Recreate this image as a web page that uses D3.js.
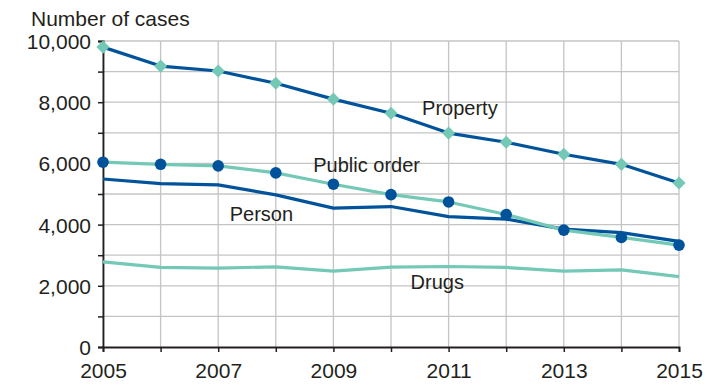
<!DOCTYPE html>
<html>
<head>
<meta charset="utf-8">
<script src="https://cdn.jsdelivr.net/npm/d3@7"></script>
<style>
  body { margin: 0; background: #fff; }
  text { font-family: "Liberation Sans", Arial, sans-serif; fill: #231f20; }
</style>
</head>
<body>
<div id="chart"></div>
<script>
// Data
const years = [2005, 2006, 2007, 2008, 2009, 2010, 2011, 2012, 2013, 2014, 2015];
const property = [9800, 9180, 9020, 8620, 8100, 7640, 6990, 6690, 6300, 5970, 5360];
const publicOrder = [6040, 5970, 5920, 5690, 5320, 4980, 4740, 4330, 3820, 3580, 3330];
const person = [5490, 5340, 5300, 4970, 4540, 4590, 4260, 4180, 3850, 3740, 3450];
const drugs = [2780, 2600, 2580, 2620, 2480, 2610, 2630, 2600, 2480, 2520, 2300];
const yTicks = [0, 2000, 4000, 6000, 8000, 10000];
const xTickLabels = [2005, 2007, 2009, 2011, 2013, 2015];

const dark = "#00539b";
const teal = "#74c8b6";

const W = 720, H = 384;
const margin = { top: 41, right: 41, bottom: 37, left: 103 };
const width = W - margin.left - margin.right;
const height = H - margin.top - margin.bottom;

const svg = d3.select("#chart").append("svg")
    .attr("width", W)
    .attr("height", H)
    .append("g")
    .attr("transform", `translate(${margin.left},${margin.top})`);

const x = d3.scaleLinear().domain([2005, 2015]).range([0, width]);
const y = d3.scaleLinear().domain([0, 10000]).range([height, 0]);

// grid
const grid = svg.append("g").attr("stroke", "#c4c4c4").attr("stroke-width", 1.3);
grid.selectAll(".gx").data(years).join("line")
    .attr("x1", d => x(d)).attr("x2", d => x(d))
    .attr("y1", 0).attr("y2", height);
grid.selectAll(".gy").data(d3.range(1000, 10001, 1000)).join("line")
    .attr("x1", 0).attr("x2", width)
    .attr("y1", d => y(d)).attr("y2", d => y(d));

// axes
const yAxis = d3.axisLeft(y)
    .tickValues(d3.range(0, 10001, 1000))
    .tickSize(5)
    .tickFormat(d => yTicks.includes(d) ? d3.format(",")(d) : "");
const gy = svg.append("g").call(yAxis);
gy.select(".domain").attr("stroke", "#231f20").attr("stroke-width", 1.8);
gy.selectAll(".tick line").attr("stroke", "#231f20").attr("stroke-width", 1.5);
gy.selectAll("text").style("font-size", "21px").attr("x", -12).attr("dy", "0.36em");

const xAxis = d3.axisBottom(x)
    .tickValues(years)
    .tickSize(5)
    .tickFormat(d => xTickLabels.includes(d) ? d : "");
const gx = svg.append("g").attr("transform", `translate(0,${height})`).call(xAxis);
gx.select(".domain").attr("stroke", "#231f20").attr("stroke-width", 1.8);
gx.selectAll(".tick line").attr("stroke", "#231f20").attr("stroke-width", 1.5);
gx.selectAll("text").style("font-size", "21px").attr("y", 31).attr("dy", 0);

// lines
const line = d3.line().x((d, i) => x(years[i])).y(d => y(d));

function drawLine(vals, color) {
    svg.append("path")
        .datum(vals)
        .attr("fill", "none")
        .attr("stroke", color)
        .attr("stroke-width", 3.2)
        .attr("stroke-linejoin", "round")
        .attr("d", line);
}

drawLine(drugs, teal);
drawLine(person, dark);
drawLine(publicOrder, teal);
drawLine(property, dark);

// markers
svg.selectAll(".dot").data(publicOrder).join("circle")
    .attr("cx", (d, i) => x(years[i]))
    .attr("cy", d => y(d))
    .attr("r", 5.8)
    .attr("fill", dark);

svg.selectAll(".diamond").data(property).join("path")
    .attr("transform", (d, i) => `translate(${x(years[i])},${y(d)})`)
    .attr("d", d3.symbol(d3.symbolDiamond2, 110))
    .attr("fill", teal);

// labels
const labels = [
    { text: "Property", year: 2010.54, value: 7580 },
    { text: "Public order", year: 2008.65, value: 5720 },
    { text: "Person", year: 2007.2, value: 4120 },
    { text: "Drugs", year: 2010.34, value: 1900 }
];
svg.selectAll(".lbl").data(labels).join("text")
    .attr("x", d => x(d.year))
    .attr("y", d => y(d.value))
    .style("font-size", "20px")
    .text(d => d.text);

svg.append("text")
    .attr("x", 31 - margin.left)
    .attr("y", 26 - margin.top)
    .style("font-size", "21px")
    .text("Number of cases");
</script>
</body>
</html>
